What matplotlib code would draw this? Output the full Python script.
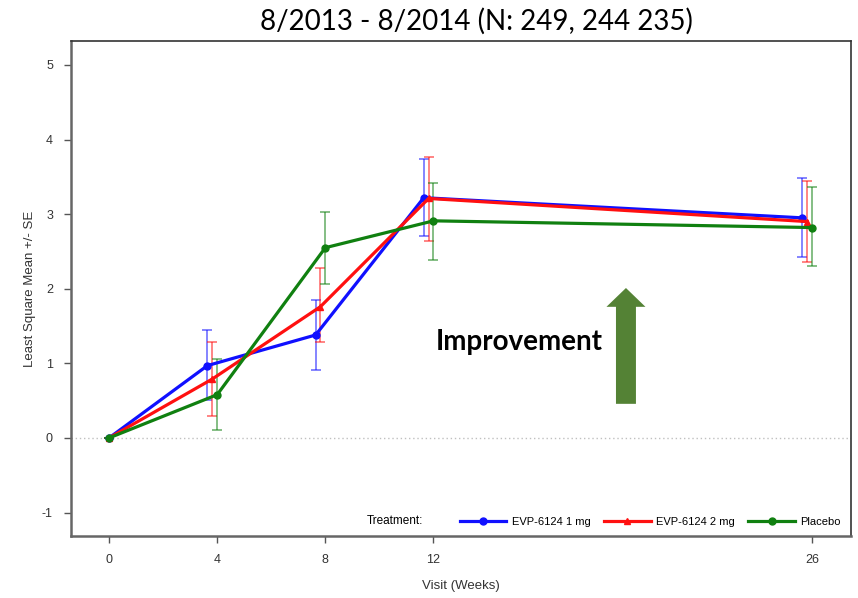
import matplotlib
matplotlib.use("Agg")
import matplotlib.pyplot as plt
from matplotlib.patches import FancyArrow
import numpy as np

plt.rcParams["axes.unicode_minus"] = False

# visit weeks and least-square means with lower/upper SE limits
weeks = [0, 4, 8, 12, 26]
groups = ["EVP-6124 1 mg", "EVP-6124 2 mg", "Placebo"]

mean_1mg = [0.0, 0.97, 1.38, 3.22, 2.95]
low_1mg = [0.0, 0.51, 0.91, 2.71, 2.43]
high_1mg = [0.0, 1.45, 1.85, 3.74, 3.48]

mean_2mg = [0.0, 0.79, 1.76, 3.21, 2.90]
low_2mg = [0.0, 0.30, 1.29, 2.64, 2.36]
high_2mg = [0.0, 1.29, 2.28, 3.76, 3.44]

mean_pbo = [0.0, 0.58, 2.55, 2.91, 2.82]
low_pbo = [0.0, 0.11, 2.07, 2.38, 2.31]
high_pbo = [0.0, 1.06, 3.03, 3.42, 3.36]

title = "8/2013 - 8/2014 (N: 249, 244 235)"

sas_font = ["Liberation Sans", "DejaVu Sans"]

fig = plt.figure(figsize=(8.58, 5.98), dpi=100)
ax = fig.add_axes([0.0828, 0.1037, 0.9090, 0.8277])

series = [
    (mean_1mg, low_1mg, high_1mg, "#1010ff", "o", -0.36),
    (mean_2mg, low_2mg, high_2mg, "#ff1010", "^", -0.18),
    (mean_pbo, low_pbo, high_pbo, "#108010", "o", 0.0),
]

handles = []
for (m, lo, hi, col, mk, dx), name in zip(series, groups):
    # dodge each group sideways, except at baseline
    x = np.array(weeks, dtype=float) + np.where(np.array(weeks) > 0, dx, 0.0)
    m = np.array(m)
    yerr = [m - np.array(lo), np.array(hi) - m]
    ax.errorbar(x, m, yerr=yerr, fmt="none", ecolor=col, elinewidth=1.2,
                capsize=3.8, capthick=1.2, alpha=0.6, zorder=2)
    h, = ax.plot(x, m, color=col, lw=2.3, marker=mk, ms=5 if mk == "o" else 4.5,
                 zorder=3, label=name)
    handles.append(h)

ax.axhline(0, color="#c0c0c0", lw=1, ls=(0, (1, 2)), zorder=1)

ax.set_xlim(-1.405, 27.44)
ax.set_ylim(-1.314, 5.32)
ax.set_xticks(weeks)
ax.set_yticks(range(-1, 6))
ax.tick_params(direction="out", length=5, width=1, color="#555555",
               labelsize=9, labelcolor="#333333")
for lbl in ax.get_xticklabels() + ax.get_yticklabels():
    lbl.set_family(sas_font)
ax.tick_params(axis="x", pad=8)
ax.tick_params(axis="y", pad=8)

for side in ["left", "bottom"]:
    ax.spines[side].set_color("#666666")
    ax.spines[side].set_linewidth(1.8)
for side in ["top", "right"]:
    ax.spines[side].set_color("#333333")
    ax.spines[side].set_linewidth(1.2)

ax.set_xlabel("Visit (Weeks)", family=sas_font, fontsize=9.5,
              color="#333333", labelpad=10)
ax.set_ylabel("Least Square Mean +/- SE", family=sas_font, fontsize=9.5,
              color="#333333", labelpad=4)

fig.text(0.555, 0.965, title, ha="center", va="center",
         family=["Lato", "DejaVu Sans"], fontsize=20)

leg = ax.legend(handles=handles, loc="lower right", ncol=3, frameon=False,
                bbox_to_anchor=(1.0, -0.002), handlelength=4.2,
                columnspacing=1.2, handletextpad=0.5,
                prop={"family": sas_font, "size": 8})
ax.text(0.379, 0.031, "Treatment:", transform=ax.transAxes, ha="left",
        va="center", family=sas_font, fontsize=8.5)

# annotation: upward arrow marking direction of improvement
ax.text(0.467, 0.392, "Improvement", transform=ax.transAxes, ha="left",
        va="center", family=["Lato", "DejaVu Sans"], fontweight="bold",
        fontsize=20)
arrow = FancyArrow(0.7115, 0.267, 0, 0.234, width=0.0256, head_width=0.05,
                   head_length=0.038, length_includes_head=True,
                   transform=ax.transAxes, color="#548235", lw=0, zorder=4)
ax.add_patch(arrow)

fig.savefig("out.png", dpi=100)
